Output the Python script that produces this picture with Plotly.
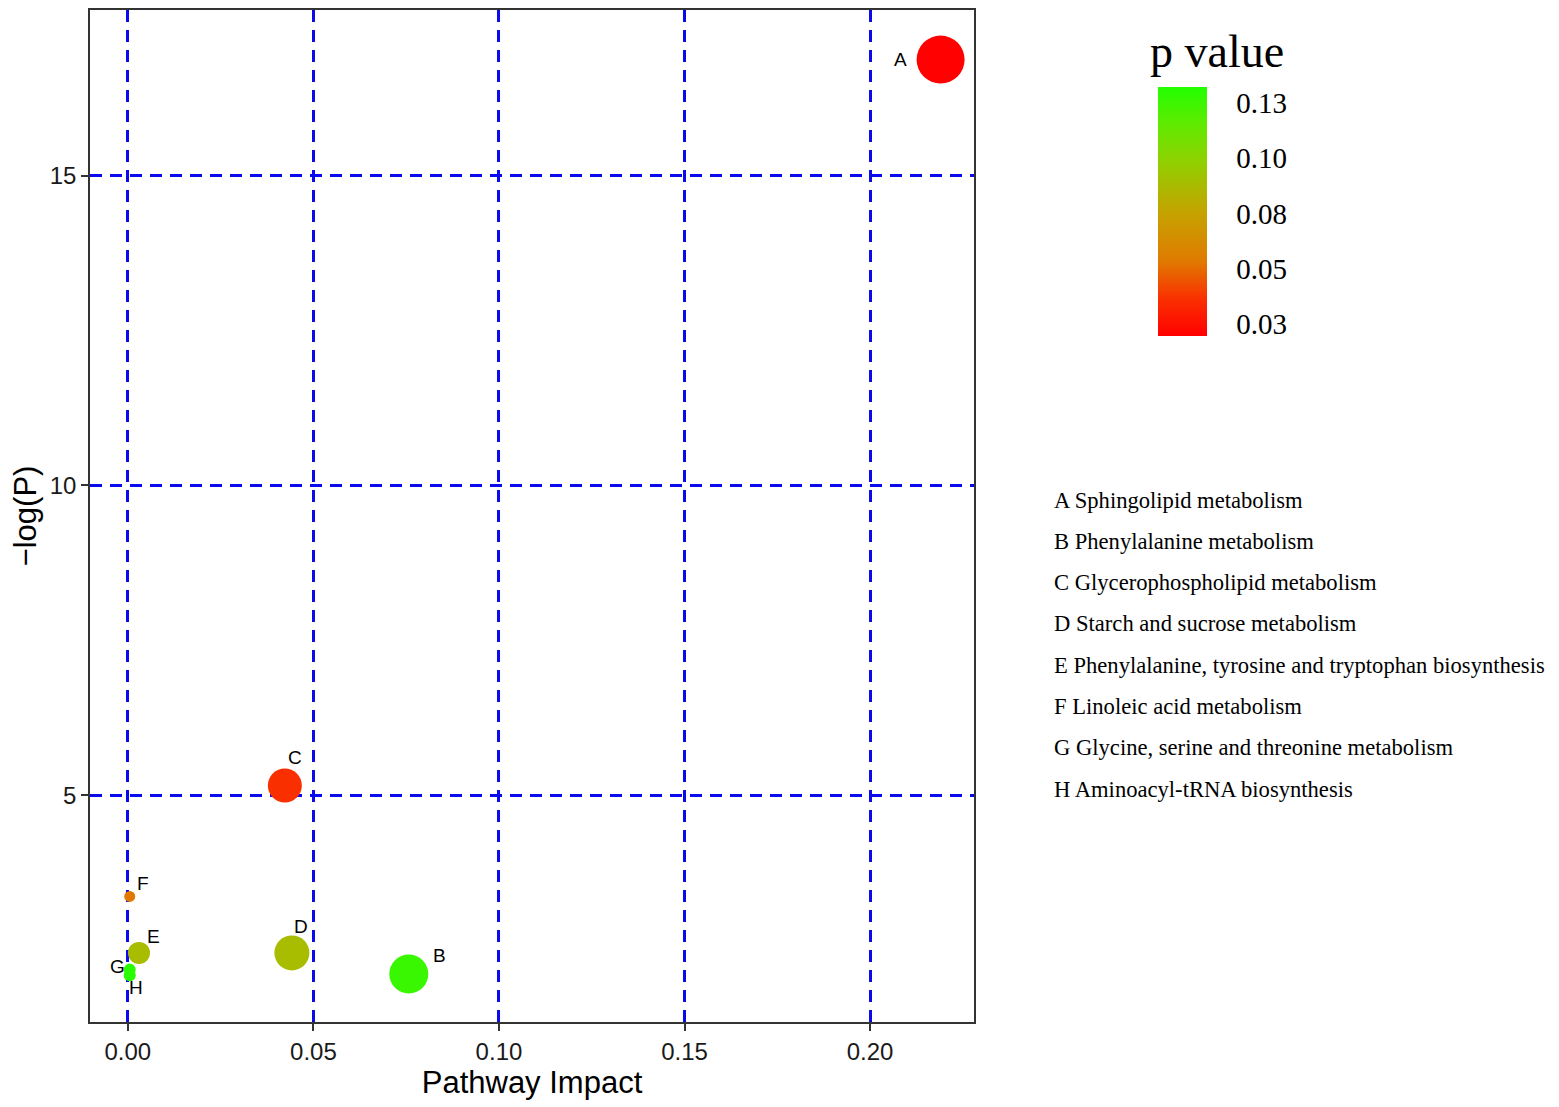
import plotly.graph_objects as go

# pathway impact analysis values
pathway_ids = ["A", "B", "C", "D", "E", "F", "G", "H"]
pathway_names = [
    "Sphingolipid metabolism",
    "Phenylalanine metabolism",
    "Glycerophospholipid metabolism",
    "Starch and sucrose metabolism",
    "Phenylalanine, tyrosine and tryptophan biosynthesis",
    "Linoleic acid metabolism",
    "Glycine, serine and threonine metabolism",
    "Aminoacyl-tRNA biosynthesis",
]
impact = [0.219, 0.0757, 0.0423, 0.0442, 0.003, 0.0005, 0.0005, 0.0005]
neg_log_p = [16.87, 2.12, 5.16, 2.46, 2.46, 3.37, 2.19, 2.10]
p_value = [0.020, 0.126, 0.036, 0.088, 0.088, 0.053, 0.130, 0.130]
bubble_size = [48, 39, 34, 35, 22, 11, 12, 12]

cbar_ticks = [0.025, 0.05, 0.075, 0.10, 0.125]
cbar_labels = ["0.03", "0.05", "0.08", "0.10", "0.13"]

# label offsets from each bubble centre, in pixels
label_dx = [-40, 31, 10, 9, 15, 13, -12, 6]
label_dy = [0, 18, 28, 26, 16, 13, 3, -12]

SANS = "Arial, Liberation Sans, sans-serif"
SERIF = "Times New Roman, Liberation Serif, serif"

fig = go.Figure()

fig.add_trace(go.Scatter(
    x=impact,
    y=neg_log_p,
    mode="markers",
    marker=dict(
        size=bubble_size,
        opacity=1,
        color=p_value,
        cmin=0.0196,
        cmax=0.1322,
        colorscale=[
            [0.0, "#ff0000"],
            [0.15, "#fa3000"],
            [0.3, "#e07a00"],
            [0.5, "#c4a400"],
            [0.7, "#90d000"],
            [0.85, "#60ea00"],
            [1.0, "#22ff00"],
        ],
        line=dict(width=0),
        colorbar=dict(
            x=1.208, xanchor="left", xpad=0,
            y=0.801, yanchor="middle", ypad=0,
            thickness=49, len=249, lenmode="pixels",
            outlinewidth=0,
            tickvals=cbar_ticks,
            ticktext=cbar_labels,
            ticks="outside", ticklen=24, tickcolor="rgba(0,0,0,0)",
            tickfont=dict(family=SERIF, size=29, color="black"),
        ),
    ),
    showlegend=False,
    hoverinfo="skip",
))

for pid, xv, yv, dx, dy in zip(pathway_ids, impact, neg_log_p, label_dx, label_dy):
    fig.add_annotation(
        x=xv, y=yv, text=pid, showarrow=False,
        xshift=dx, yshift=dy,
        font=dict(family=SANS, size=19, color="black"),
    )

axis_common = dict(
    showline=True, mirror=True, linecolor="#333333", linewidth=1.5,
    ticks="outside", ticklen=7, tickwidth=2, tickcolor="#333333",
    showgrid=True, gridcolor="#0a0aee", gridwidth=2.5, griddash="12px,8px",
    zeroline=False,
    tickfont=dict(family=SANS, size=24, color="#1a1a1a"),
)

fig.update_xaxes(
    range=[-0.0102, 0.228], tickvals=[0, 0.05, 0.10, 0.15, 0.20],
    tickformat=".2f",
    title=dict(text="Pathway Impact", font=dict(family=SANS, size=31, color="black"),
               standoff=6),
    **axis_common,
)
fig.update_yaxes(
    range=[1.345, 17.67], tickvals=[5, 10, 15],
    title=dict(text="\u2212log(P)", font=dict(family=SANS, size=31, color="black"),
               standoff=12),
    **axis_common,
)

# colour bar title
fig.add_annotation(
    xref="paper", yref="paper", x=1.197, y=0.9586, xanchor="left", yanchor="middle",
    text="p value", showarrow=False,
    font=dict(family=SERIF, size=46, color="black"),
)

# pathway key on the right
for i, (pid, name) in enumerate(zip(pathway_ids, pathway_names)):
    fig.add_annotation(
        xref="paper", yref="paper", x=1.0882, y=0.5158 - i * 0.0408,
        xanchor="left", yanchor="middle",
        text=f"{pid} {name}", showarrow=False,
        font=dict(family=SERIF, size=22.6, color="black"),
    )

# the page adds an 8px body margin, so shift the plot area up and left
fig.update_layout(
    width=1559, height=1107,
    margin=dict(l=82, r=593, t=0, b=93),
    paper_bgcolor="white", plot_bgcolor="white",
)

fig.write_html("out.html")
